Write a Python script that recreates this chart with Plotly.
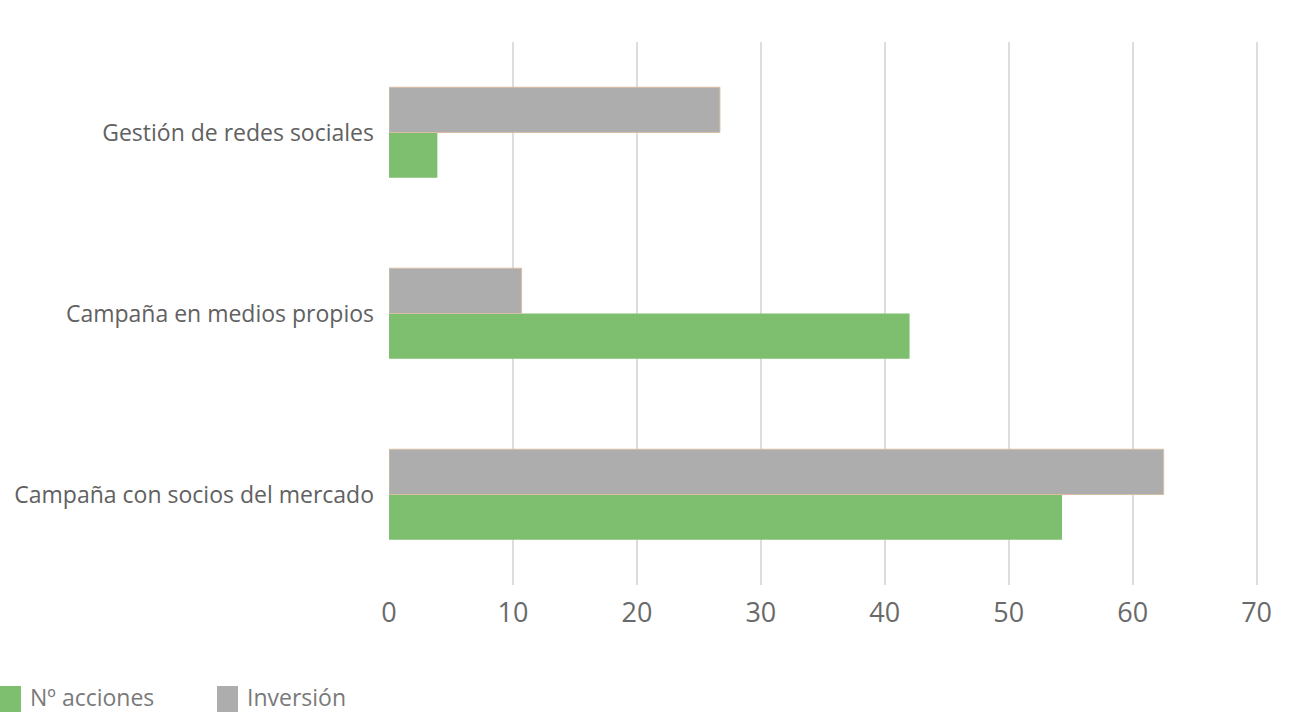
import plotly.graph_objects as go

categories = ["Campaña con socios del mercado", "Campaña en medios propios", "Gestión de redes sociales"]
acciones = [54.3, 42.0, 3.9]
inversion = [62.5, 10.7, 26.7]
x_ticks = [0, 10, 20, 30, 40, 50, 60, 70]
series_names = ["Nº acciones", "Inversión"]
series_colors = ["#7dbf6f", "#adadad"]

W, H = 1305, 712
L, R, T, B = 389, 5, 42, 127
pw, ph = W - L - R, H - T - B

def px(xp):
    return (xp - L) / pw

def py(yp):
    return (H - B - yp) / ph

fig = go.Figure()
fig.add_trace(go.Bar(y=categories, x=acciones, orientation="h", name=series_names[0],
                     marker=dict(color=series_colors[0], line=dict(width=0))))
fig.add_trace(go.Bar(y=categories, x=inversion, orientation="h", name=series_names[1],
                     marker=dict(color=series_colors[1], line=dict(color="#d8bfa4", width=1))))

# manual legend
legend_x = [0, 217]
for i, (name, col) in enumerate(zip(series_names, series_colors)):
    x0 = legend_x[i]
    fig.add_shape(type="rect", xref="paper", yref="paper",
                  x0=px(x0), x1=px(x0 + 21), y0=py(713), y1=py(686),
                  fillcolor=col, line=dict(width=0))
    fig.add_annotation(xref="paper", yref="paper", x=px(x0 + 28), y=py(697),
                       xanchor="left", yanchor="middle", text=name, showarrow=False,
                       font=dict(size=23, color="#7a7a7a", family="Open Sans, sans-serif"))

fig.update_layout(
    width=W, height=H,
    margin=dict(l=L, r=R, t=T, b=B, autoexpand=False),
    paper_bgcolor="white", plot_bgcolor="white",
    barmode="group", bargap=0.5, bargroupgap=0,
    font=dict(family="Open Sans, sans-serif", color="#5f5f5f"),
    xaxis=dict(range=[0, 73.5], tickvals=x_ticks, showgrid=True, gridcolor="#dddddd", gridwidth=2,
               zeroline=False, showline=False, tickfont=dict(size=27, color="#6a6a6a"),
               ticklabelstandoff=9, automargin=False),
    yaxis=dict(categoryorder="array", categoryarray=categories, showgrid=False, zeroline=False,
               tickfont=dict(size=23, color="#616161"), ticklabelstandoff=14, automargin=False),
    showlegend=False,
)

fig.write_html("out.html", config={"displayModeBar": False},
               post_script="document.body.style.margin='0';document.body.style.overflow='hidden';")
